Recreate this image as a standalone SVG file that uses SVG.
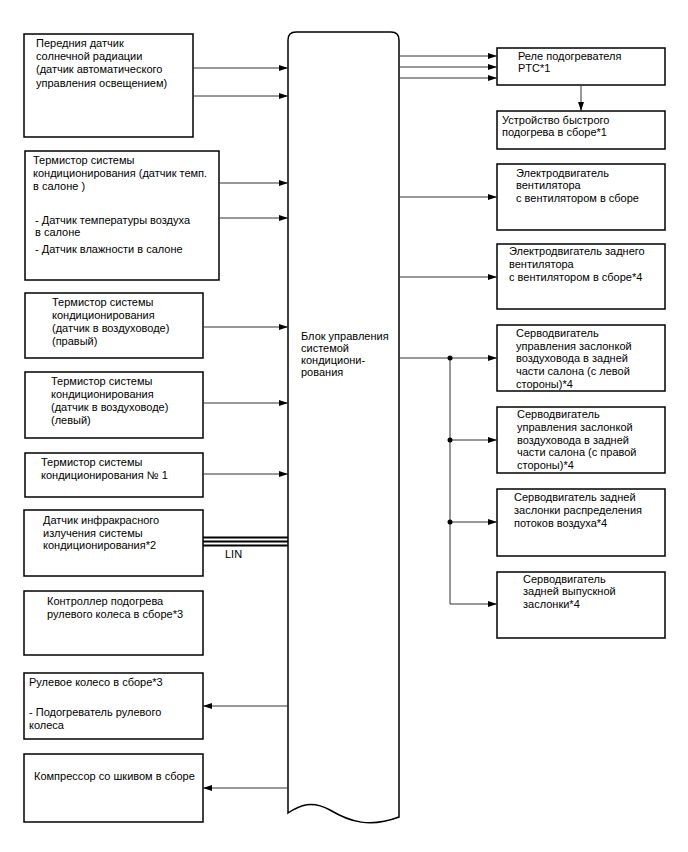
<svg xmlns="http://www.w3.org/2000/svg" width="688" height="852" viewBox="0 0 688 852">
<defs>
<marker id="ah" markerWidth="9" markerHeight="6" refX="9" refY="3" orient="auto" markerUnits="userSpaceOnUse">
<path d="M0,0 L9,3 L0,6 z" fill="#000"/>
</marker>
<style>
.box{fill:#fff;stroke:#000;stroke-width:1.5}
.t{font-family:"Liberation Sans",Arial,sans-serif;font-size:11px;fill:#000}
.ln{stroke:#333;stroke-width:1;fill:none}
.ar{stroke:#333;stroke-width:1;fill:none;marker-end:url(#ah)}
.dot{fill:#000}
</style>
</defs>
<rect width="688" height="852" fill="#fff"/>

<g id="ecu">
<path class="box" d="M288,813 L288,40 Q288,32 296,32 L391,32 Q399,32 399,40 L399,817 C370,828 350,822 330,810 C312,800 300,805 288,813 Z"/>
<text class="t" x="301" y="340">Блок управления</text>
<text class="t" x="301" y="352">системой</text>
<text class="t" x="301" y="364">кондициони-</text>
<text class="t" x="301" y="376">рования</text>
</g>

<g id="n1">
<rect class="box" x="24" y="34" width="169" height="103"/>
<text class="t" x="36" y="47">Передния датчик</text>
<text class="t" x="36" y="60">солнечной радиации</text>
<text class="t" x="36" y="73">(датчик автоматического</text>
<text class="t" x="36" y="87">управления освещением)</text>
</g>

<g id="n2">
<rect class="box" x="25" y="151" width="194" height="129"/>
<text class="t" x="33" y="164">Термистор системы</text>
<text class="t" x="33" y="177">кондиционирования (датчик темп.</text>
<text class="t" x="33" y="190">в салоне )</text>
<text class="t" x="35" y="224">- Датчик температуры воздуха</text>
<text class="t" x="35" y="236">в  салоне</text>
<text class="t" x="35" y="253">- Датчик влажности в салоне</text>
</g>

<g id="n3">
<rect class="box" x="25" y="293" width="178" height="65"/>
<text class="t" x="52" y="306">Термистор системы</text>
<text class="t" x="52" y="319">кондиционирования</text>
<text class="t" x="52" y="332">(датчик в воздуховоде)</text>
<text class="t" x="52" y="345">(правый)</text>
</g>

<g id="n4">
<rect class="box" x="25" y="372" width="178" height="66"/>
<text class="t" x="51" y="385">Термистор системы</text>
<text class="t" x="51" y="398">кондиционирования</text>
<text class="t" x="51" y="411">(датчик в воздуховоде)</text>
<text class="t" x="51" y="424">(левый)</text>
</g>

<g id="n5">
<rect class="box" x="25" y="453" width="178" height="44"/>
<text class="t" x="41" y="466">Термистор системы</text>
<text class="t" x="41" y="479">кондиционирования № 1</text>
</g>

<g id="n6">
<rect class="box" x="24" y="510" width="179" height="66"/>
<text class="t" x="43" y="524">Датчик инфракрасного</text>
<text class="t" x="43" y="537">излучения системы</text>
<text class="t" x="43" y="549">кондиционирования*2</text>
</g>

<g id="n7">
<rect class="box" x="24" y="591" width="179" height="64"/>
<text class="t" x="47" y="605">Контроллер подогрева</text>
<text class="t" x="47" y="618">рулевого колеса в сборе*3</text>
</g>

<g id="n8">
<rect class="box" x="24" y="673" width="179" height="66"/>
<text class="t" x="29" y="686">Рулевое колесо в сборе*3</text>
<text class="t" x="29" y="716">- Подогреватель рулевого</text>
<text class="t" x="29" y="729">колеса</text>
</g>

<g id="n9">
<rect class="box" x="24" y="754" width="179" height="68"/>
<text class="t" x="34" y="780">Компрессор со шкивом в сборе</text>
</g>

<g id="r1">
<rect class="box" x="497" y="48" width="168" height="37"/>
<text class="t" x="518" y="60">Реле подогревателя</text>
<text class="t" x="518" y="72">PTC*1</text>
</g>

<g id="r2">
<rect class="box" x="497" y="111" width="168" height="38"/>
<text class="t" x="502" y="124">Устройство быстрого</text>
<text class="t" x="502" y="136">подогрева в сборе*1</text>
</g>

<g id="r3">
<rect class="box" x="497" y="164" width="168" height="66"/>
<text class="t" x="516" y="177">Электродвигатель</text>
<text class="t" x="516" y="189">вентилятора</text>
<text class="t" x="516" y="202">с вентилятором в сборе</text>
</g>

<g id="r4">
<rect class="box" x="497" y="244" width="168" height="65"/>
<text class="t" x="509" y="255">Электродвигатель заднего</text>
<text class="t" x="509" y="268">вентилятора</text>
<text class="t" x="509" y="281">с вентилятором в сборе*4</text>
</g>

<g id="r5">
<rect class="box" x="497" y="325" width="168" height="66"/>
<text class="t" x="516" y="337">Серводвигатель</text>
<text class="t" x="516" y="350">управления заслонкой</text>
<text class="t" x="516" y="362">воздуховода в задней</text>
<text class="t" x="516" y="375">части салона (с левой</text>
<text class="t" x="516" y="388">стороны)*4</text>
</g>

<g id="r6">
<rect class="box" x="497" y="407" width="168" height="66"/>
<text class="t" x="517" y="418">Серводвигатель</text>
<text class="t" x="517" y="431">управления заслонкой</text>
<text class="t" x="517" y="444">воздуховода в задней</text>
<text class="t" x="517" y="456">части салона (с правой</text>
<text class="t" x="517" y="469">стороны)*4</text>
</g>

<g id="r7">
<rect class="box" x="497" y="489" width="168" height="67"/>
<text class="t" x="514" y="501">Серводвигатель задней</text>
<text class="t" x="514" y="514">заслонки распределения</text>
<text class="t" x="514" y="527">потоков воздуха*4</text>
</g>

<g id="r8">
<rect class="box" x="497" y="572" width="168" height="66"/>
<text class="t" x="523" y="583">Серводвигатель</text>
<text class="t" x="523" y="595">задней выпускной</text>
<text class="t" x="523" y="608">заслонки*4</text>
</g>

<g id="connectors">
<line class="ar" x1="193" y1="68" x2="288" y2="68"/>
<line class="ar" x1="193" y1="96" x2="288" y2="96"/>
<line class="ar" x1="219" y1="183" x2="288" y2="183"/>
<line class="ar" x1="219" y1="218" x2="288" y2="218"/>
<line class="ar" x1="203" y1="327" x2="288" y2="327"/>
<line class="ar" x1="203" y1="403" x2="288" y2="403"/>
<line class="ar" x1="203" y1="474" x2="288" y2="474"/>
<line x1="203" y1="537.5" x2="288" y2="537.5" stroke="#000" stroke-width="1.8"/>
<line x1="203" y1="541.5" x2="288" y2="541.5" stroke="#000" stroke-width="1.8"/>
<line x1="203" y1="545.5" x2="288" y2="545.5" stroke="#000" stroke-width="1.8"/>
<text class="t" x="225" y="558">LIN</text>
<line class="ar" x1="288" y1="706" x2="203" y2="706"/>
<line class="ar" x1="288" y1="788" x2="203" y2="788"/>

<line class="ar" x1="399" y1="56" x2="497" y2="56"/>
<line class="ar" x1="399" y1="67" x2="497" y2="67"/>
<line class="ar" x1="399" y1="78" x2="497" y2="78"/>
<line class="ar" x1="581" y1="85" x2="581" y2="111"/>
<line class="ar" x1="399" y1="197" x2="497" y2="197"/>
<line class="ar" x1="399" y1="277" x2="497" y2="277"/>
<line class="ln" x1="399" y1="358" x2="450" y2="358"/>
<polyline class="ln" points="450,358 450,604"/>
<line class="ar" x1="450" y1="358" x2="497" y2="358"/>
<line class="ar" x1="450" y1="440" x2="497" y2="440"/>
<line class="ar" x1="450" y1="522" x2="497" y2="522"/>
<line class="ar" x1="450" y1="604" x2="497" y2="604"/>
<circle class="dot" cx="450" cy="358" r="2.5"/>
<circle class="dot" cx="450" cy="440" r="2.5"/>
<circle class="dot" cx="450" cy="522" r="2.5"/>
</g>
</svg>
